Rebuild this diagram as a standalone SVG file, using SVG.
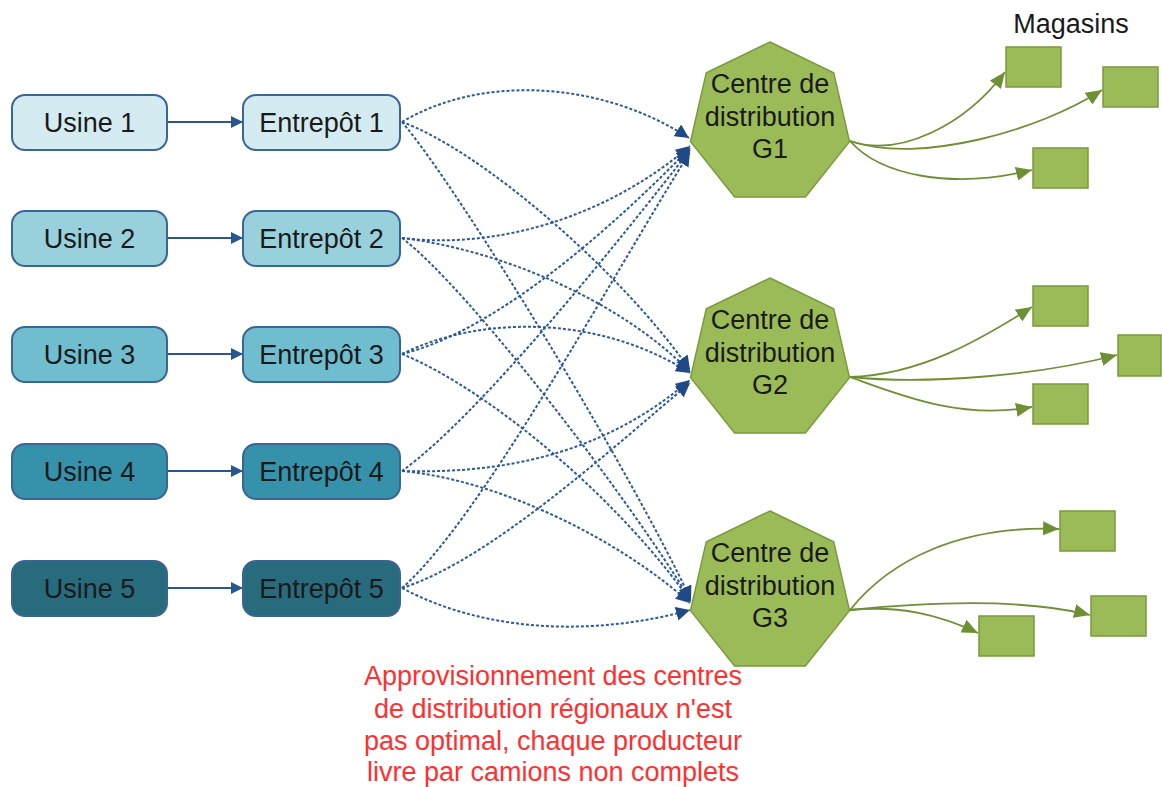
<svg xmlns="http://www.w3.org/2000/svg" width="1162" height="787" viewBox="0 0 1162 787">
<style>
.lbl{font-family:"Liberation Sans",Arial,sans-serif;font-size:27px;fill:#1a1a1a;text-anchor:middle}
.box{stroke:#3a6596;stroke-width:2}
.hept{fill:#9bbb59;stroke:#7a9a3c;stroke-width:1.5}
.store{fill:#9bbb59;stroke:#7a9a3c;stroke-width:1.5}
.solid{fill:none;stroke:#2b5591;stroke-width:2}
.dash{fill:none;stroke:#2d5a96;stroke-width:2;stroke-dasharray:3 2}
.green{fill:none;stroke:#6f8f35;stroke-width:1.8}
.note{font-family:"Liberation Sans",Arial,sans-serif;font-size:27px;fill:#ff3030;text-anchor:middle}
</style>
<defs>
<marker id="ab" markerUnits="userSpaceOnUse" markerWidth="16" markerHeight="14" refX="14" refY="7" orient="auto"><path d="M0,0 L14,7 L0,14 Z" fill="#1f4a85"/></marker>
<marker id="as" markerUnits="userSpaceOnUse" markerWidth="14" markerHeight="12" refX="12" refY="6" orient="auto"><path d="M0,0 L12,6 L0,12 Z" fill="#2b5591"/></marker>
<marker id="ag" markerUnits="userSpaceOnUse" markerWidth="18" markerHeight="14" refX="16" refY="7" orient="auto"><path d="M0,0 L16,7 L0,14 Z" fill="#6f8f35"/></marker>
<polygon id="hp" points="0,-81.5 63.7,-50.8 79.5,18.1 35.4,73.4 -35.4,73.4 -79.5,18.1 -63.7,-50.8"/>
</defs>
<rect width="1162" height="787" fill="#ffffff"/>

<g id="connectors">
<path class="solid" marker-end="url(#as)" d="M167,122 L243,122"/>
<path class="solid" marker-end="url(#as)" d="M167,238 L243,238"/>
<path class="solid" marker-end="url(#as)" d="M167,354 L243,354"/>
<path class="solid" marker-end="url(#as)" d="M167,471 L243,471"/>
<path class="solid" marker-end="url(#as)" d="M167,588 L243,588"/>

<path class="dash" marker-end="url(#ab)" d="M402,122 C480,75 600,80 689,138"/>
<path class="dash" marker-end="url(#ab)" d="M402,122 C480,150 620,270 690,370"/>
<path class="dash" marker-end="url(#ab)" d="M402,122 C460,190 630,470 691,600"/>

<path class="dash" marker-end="url(#ab)" d="M402,238 C500,250 610,215 690,146"/>
<path class="dash" marker-end="url(#ab)" d="M402,238 C500,250 620,300 690,372"/>
<path class="dash" marker-end="url(#ab)" d="M402,238 C470,290 630,500 691,601"/>

<path class="dash" marker-end="url(#ab)" d="M402,354 C500,330 620,220 690,148"/>
<path class="dash" marker-end="url(#ab)" d="M402,354 C480,315 600,315 690,373"/>
<path class="dash" marker-end="url(#ab)" d="M402,354 C490,390 620,500 691,602"/>

<path class="dash" marker-end="url(#ab)" d="M402,471 C480,415 620,240 690,150"/>
<path class="dash" marker-end="url(#ab)" d="M402,471 C530,475 620,440 690,380"/>
<path class="dash" marker-end="url(#ab)" d="M402,471 C500,480 620,540 690,603"/>

<path class="dash" marker-end="url(#ab)" d="M402,588 C480,520 610,280 690,152"/>
<path class="dash" marker-end="url(#ab)" d="M402,588 C490,560 610,450 690,383"/>
<path class="dash" marker-end="url(#ab)" d="M402,588 C490,635 600,635 690,610"/>

<path class="green" marker-end="url(#ag)" d="M850,141 C900,158 965,125 1005,72"/>
<path class="green" marker-end="url(#ag)" d="M850,141 C920,165 1040,130 1102,90"/>
<path class="green" marker-end="url(#ag)" d="M850,141 C880,175 950,190 1032,170"/>

<path class="green" marker-end="url(#ag)" d="M850,377 C920,375 980,340 1032,307"/>
<path class="green" marker-end="url(#ag)" d="M850,377 C930,385 1040,375 1117,355"/>
<path class="green" marker-end="url(#ag)" d="M850,377 C900,395 960,420 1032,407"/>

<path class="green" marker-end="url(#ag)" d="M850,610 C890,560 960,525 1059,529"/>
<path class="green" marker-end="url(#ag)" d="M850,610 C950,600 1030,600 1090,615"/>
<path class="green" marker-end="url(#ag)" d="M850,610 C900,605 940,615 978,633"/>
</g>

<g id="usine1"><rect class="box" x="12" y="95" width="155" height="55" rx="13" fill="#d3ebf1"/><text class="lbl" x="89.5" y="132">Usine 1</text></g>
<g id="usine2"><rect class="box" x="12" y="211" width="155" height="55" rx="13" fill="#98d0dc"/><text class="lbl" x="89.5" y="248">Usine 2</text></g>
<g id="usine3"><rect class="box" x="12" y="327" width="155" height="55" rx="13" fill="#70bdd0"/><text class="lbl" x="89.5" y="364">Usine 3</text></g>
<g id="usine4"><rect class="box" x="12" y="444" width="155" height="55" rx="13" fill="#3592aa"/><text class="lbl" x="89.5" y="481">Usine 4</text></g>
<g id="usine5"><rect class="box" x="12" y="561" width="155" height="55" rx="13" fill="#286b7d"/><text class="lbl" x="89.5" y="598">Usine 5</text></g>

<g id="entrepot1"><rect class="box" x="243" y="95" width="157" height="55" rx="13" fill="#d3ebf1"/><text class="lbl" x="321.5" y="132">Entrepôt 1</text></g>
<g id="entrepot2"><rect class="box" x="243" y="211" width="157" height="55" rx="13" fill="#98d0dc"/><text class="lbl" x="321.5" y="248">Entrepôt 2</text></g>
<g id="entrepot3"><rect class="box" x="243" y="327" width="157" height="55" rx="13" fill="#70bdd0"/><text class="lbl" x="321.5" y="364">Entrepôt 3</text></g>
<g id="entrepot4"><rect class="box" x="243" y="444" width="157" height="55" rx="13" fill="#3592aa"/><text class="lbl" x="321.5" y="481">Entrepôt 4</text></g>
<g id="entrepot5"><rect class="box" x="243" y="561" width="157" height="55" rx="13" fill="#286b7d"/><text class="lbl" x="321.5" y="598">Entrepôt 5</text></g>

<g id="g1"><use href="#hp" class="hept" x="770" y="123.5"/><text class="lbl" x="770" y="93">Centre de</text><text class="lbl" x="770" y="126">distribution</text><text class="lbl" x="770" y="158">G1</text></g>
<g id="g2"><use href="#hp" class="hept" x="770" y="359.5"/><text class="lbl" x="770" y="329">Centre de</text><text class="lbl" x="770" y="362">distribution</text><text class="lbl" x="770" y="394">G2</text></g>
<g id="g3"><use href="#hp" class="hept" x="770" y="592.5"/><text class="lbl" x="770" y="562">Centre de</text><text class="lbl" x="770" y="595">distribution</text><text class="lbl" x="770" y="627">G3</text></g>

<g id="magasins-label"><text class="lbl" x="1071" y="33">Magasins</text></g>
<g id="store-g1a"><rect class="store" x="1006" y="47" width="55" height="40"/></g>
<g id="store-g1b"><rect class="store" x="1103" y="67" width="55" height="40"/></g>
<g id="store-g1c"><rect class="store" x="1033" y="148" width="55" height="40"/></g>
<g id="store-g2a"><rect class="store" x="1033" y="286" width="55" height="40"/></g>
<g id="store-g2b"><rect class="store" x="1118" y="335" width="43" height="41"/></g>
<g id="store-g2c"><rect class="store" x="1033" y="384" width="55" height="40"/></g>
<g id="store-g3a"><rect class="store" x="1060" y="511" width="55" height="40"/></g>
<g id="store-g3b"><rect class="store" x="1091" y="596" width="55" height="40"/></g>
<g id="store-g3c"><rect class="store" x="979" y="616" width="55" height="40"/></g>

<g id="note"><text class="note" x="553" y="685">Approvisionnement des centres</text><text class="note" x="553" y="718">de distribution régionaux n'est</text><text class="note" x="553" y="750">pas optimal, chaque producteur</text><text class="note" x="553" y="781">livre par camions non complets</text></g>
</svg>
